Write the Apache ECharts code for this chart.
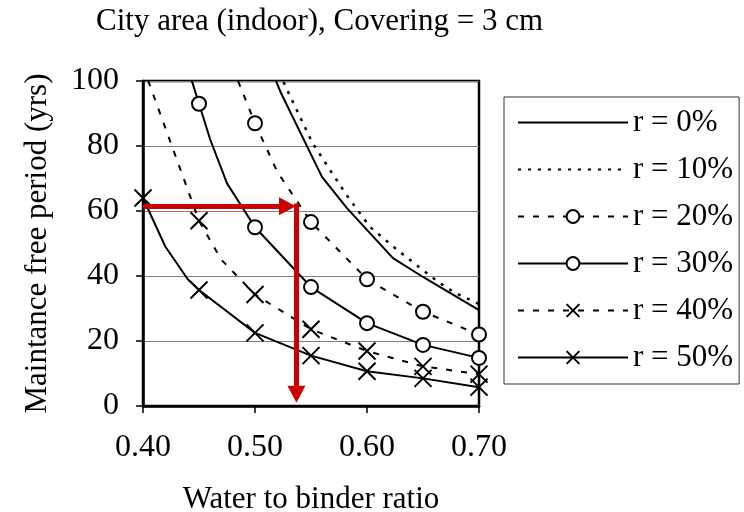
<!DOCTYPE html>
<html>
<head>
<meta charset="utf-8">
<script src="https://cdn.jsdelivr.net/npm/echarts@6/dist/echarts.min.js"></script>
<style>
  html, body { margin: 0; padding: 0; background: #fff; }
  #chart { width: 744px; height: 512px; }
</style>
</head>
<body>
<div id="chart"></div>
<script>
// Axis ranges and tick labels
const xTickValues = [0.40, 0.50, 0.60, 0.70];
const yTickValues = [0, 20, 40, 60, 80, 100];

const titleText = 'City area (indoor), Covering = 3 cm';
const xAxisTitle = 'Water to binder ratio';
const yAxisTitle = 'Maintance free period (yrs)';

const seriesNames = ['r = 0%', 'r = 10%', 'r = 20%', 'r = 30%', 'r = 40%', 'r = 50%'];

// Curves: water-to-binder ratio (x) against maintenance-free period in years (y).
// Points on the 0.05 grid carry a marker, the others only shape the curve.
const r0X  = [0.5045, 0.5232, 0.5598, 0.5821, 0.6232, 0.650, 0.700];
const r0Y  = [112,    96.3,   70.5,   60.9,   45.5,   39.7,  29.5];

const r10X = [0.5116, 0.525, 0.5509, 0.567, 0.583, 0.6027, 0.625, 0.650, 0.6634, 0.6786, 0.700];
const r10Y = [111,    100,   81.2,   72.6,  64.3,  55.1,   48.6,  41.8,  38.2,   34.8,   31.4];

const r20X = [0.45, 0.50, 0.52, 0.55, 0.60, 0.65, 0.70];
const r20Y = [130,  87,   72,   56.6, 39,   29,   22];

const r30X = [0.40, 0.43, 0.44, 0.45, 0.46, 0.475, 0.50, 0.55, 0.60, 0.65, 0.70];
const r30Y = [135,  118,  104,  93,   82,   68.5,  55,   36.6, 25.5, 18.8, 14.8];

const r40X = [0.40,  0.45, 0.47, 0.50, 0.55, 0.60, 0.65, 0.70];
const r40Y = [104.5, 57,   45,   34.3, 23.6, 16.9, 12.2, 9.8];

const r50X = [0.40, 0.42, 0.44, 0.45, 0.50, 0.55, 0.60, 0.65, 0.70];
const r50Y = [64,   49,   39,   35.7, 22.5, 15.5, 10.7, 8.5,  5.8];

// Reading guide: from 60 years across to w/b = 0.54, then down to the axis
const guideStartX = 0.40;
const guideY = 61.5;
const guideX = 0.537;
const guideArrowEndX = 0.529;
const guideEndY = 3.6;

const serif = 'Liberation Serif, Times New Roman, serif';
const crossPath = 'path://M0,0L20,20M20,0L0,20';

function onGrid(x) {
  return Math.abs(x * 20 - Math.round(x * 20)) < 1e-6;
}

function buildData(xs, ys, withMarkers) {
  return xs.map((x, i) => {
    const item = { value: [x, ys[i]] };
    if (!withMarkers || !onGrid(x)) item.symbol = 'none';
    return item;
  });
}

const lineDefs = [
  { name: seriesNames[0], xs: r0X,  ys: r0Y,  type: 'solid', width: 2,   symbol: 'none' },
  { name: seriesNames[1], xs: r10X, ys: r10Y, type: [3, 7],  width: 2.5, symbol: 'none' },
  { name: seriesNames[2], xs: r20X, ys: r20Y, type: [6, 9],  width: 2,   symbol: 'emptyCircle' },
  { name: seriesNames[3], xs: r30X, ys: r30Y, type: 'solid', width: 2,   symbol: 'emptyCircle' },
  { name: seriesNames[4], xs: r40X, ys: r40Y, type: [6, 9],  width: 2,   symbol: crossPath },
  { name: seriesNames[5], xs: r50X, ys: r50Y, type: 'solid', width: 2,   symbol: crossPath }
];

const series = lineDefs.map(d => {
  const hasMarker = d.symbol !== 'none';
  const isCross = d.symbol === crossPath;
  return {
    name: d.name,
    type: 'line',
    data: buildData(d.xs, d.ys, hasMarker),
    symbol: hasMarker ? d.symbol : 'none',
    symbolSize: isCross ? 17 : 14,
    showAllSymbol: true,
    clip: true,
    silent: true,
    animation: false,
    lineStyle: { color: '#000', width: d.width, type: d.type },
    itemStyle: { color: '#000', borderColor: '#000', borderWidth: 2 },
    z: 3
  };
});

// Red reading guide drawn as mark lines on an empty carrier series
series.push({
  name: 'guide',
  type: 'line',
  data: [],
  silent: true,
  animation: false,
  z: 10,
  markLine: {
    silent: true,
    animation: false,
    symbol: ['none', 'triangle'],
    symbolSize: [18, 17],
    label: { show: false },
    lineStyle: { color: '#cc0000', width: 5, type: 'solid' },
    itemStyle: { color: '#cc0000' },
    data: [
      [{ coord: [guideStartX, guideY] }, { coord: [guideArrowEndX, guideY] }],
      [{ coord: [guideX, guideY + 0.8] }, { coord: [guideX, guideEndY] }]
    ]
  }
});

const legendData = seriesNames.map((n, i) => {
  const item = { name: n };
  if (lineDefs[i].symbol === 'none') item.itemStyle = { opacity: 0 };
  return item;
});

const chart = echarts.init(document.getElementById('chart'), null, { renderer: 'canvas' });
chart.setOption({
  backgroundColor: '#fff',
  animation: false,
  textStyle: { fontFamily: serif, color: '#000' },
  title: {
    text: titleText,
    left: 96,
    top: 6,
    padding: 0,
    textStyle: { fontFamily: serif, fontSize: 31, fontWeight: 'normal', color: '#000' }
  },
  grid: {
    left: 143, right: 265, top: 81, bottom: 106,
    containLabel: false,
    outerBoundsMode: 'none',
    show: true, borderColor: '#000', borderWidth: 2.5, backgroundColor: 'transparent'
  },
  legend: {
    data: legendData,
    orient: 'vertical',
    left: 504,
    top: 97,
    padding: [10, 6, 11, 13],
    itemWidth: 110,
    itemHeight: 16,
    itemGap: 16,
    borderColor: '#333',
    borderWidth: 1,
    selectedMode: false,
    textStyle: { fontFamily: serif, fontSize: 31, color: '#000' }
  },
  xAxis: {
    type: 'value',
    min: xTickValues[0],
    max: xTickValues[xTickValues.length - 1],
    interval: 0.1,
    name: xAxisTitle,
    nameLocation: 'middle',
    nameGap: 78,
    nameTextStyle: { fontFamily: serif, fontSize: 31, color: '#000' },
    axisLine: { show: true, lineStyle: { color: '#000', width: 2.5 } },
    axisTick: { show: true, inside: false, length: 7, lineStyle: { color: '#000', width: 1.5 } },
    axisLabel: {
      margin: 26, fontFamily: serif, fontSize: 32, color: '#000',
      formatter: v => v.toFixed(2)
    },
    splitLine: { show: false }
  },
  yAxis: {
    type: 'value',
    min: yTickValues[0],
    max: yTickValues[yTickValues.length - 1],
    interval: 20,
    name: yAxisTitle,
    nameLocation: 'middle',
    nameGap: 90,
    nameTextStyle: { fontFamily: serif, fontSize: 31, color: '#000' },
    axisLine: { show: true, lineStyle: { color: '#000', width: 2.5 } },
    axisTick: { show: true, inside: false, length: 7, lineStyle: { color: '#000', width: 1.5 } },
    axisLabel: { margin: 24, fontFamily: serif, fontSize: 32, color: '#000' },
    splitLine: { show: true, lineStyle: { color: '#808080', width: 1 } }
  },
  series: series
});
</script>
</body>
</html>
